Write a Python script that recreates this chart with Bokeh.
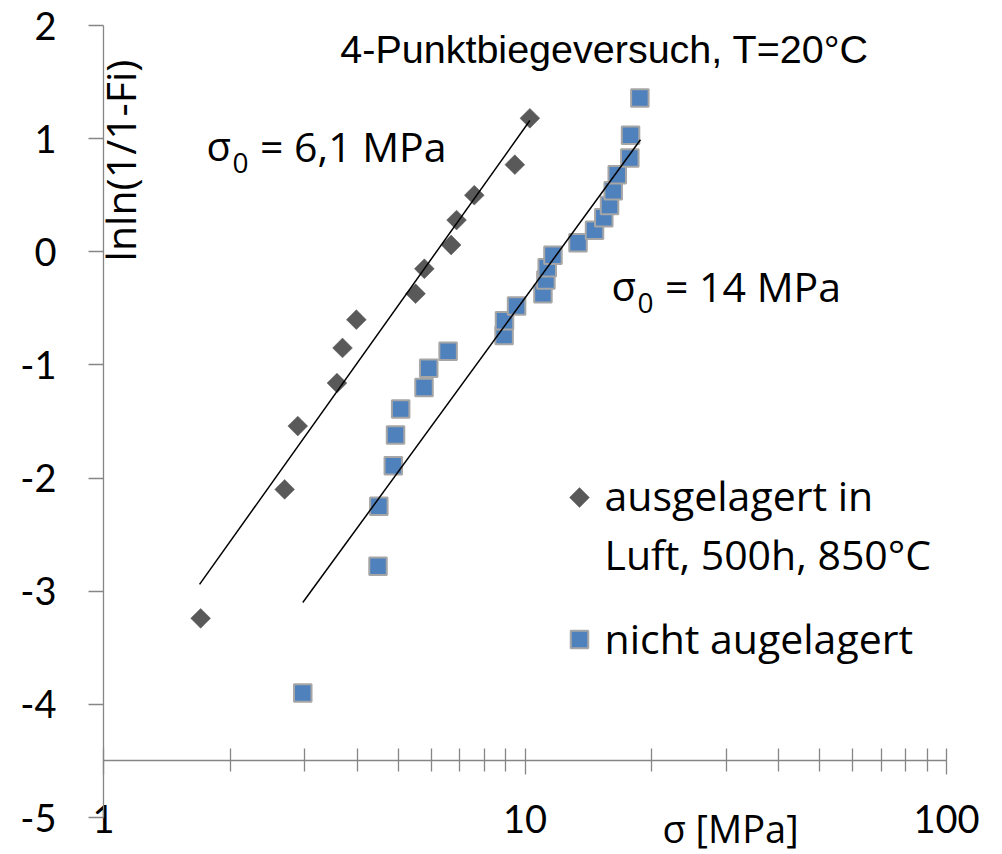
import numpy as np
from bokeh.plotting import figure
from bokeh.models import (LogAxis, LinearAxis, FixedTicker, Label, Range1d,
                          BasicTickFormatter, CustomJSTickFormatter)
from bokeh.embed import file_html
from bokeh.resources import INLINE

# ---------------- data ----------------
sigma_aged = [1.70, 2.69, 2.89, 3.58, 3.69, 3.98, 5.50, 5.77, 6.68, 6.88, 7.58, 9.46, 10.27]
lnln_aged = [-3.24, -2.10, -1.54, -1.16, -0.85, -0.60, -0.37, -0.15, 0.06, 0.28, 0.50, 0.77, 1.18]

sigma_new = [2.97, 4.48, 4.50, 4.87, 4.93, 5.07, 5.76, 5.91, 6.57, 8.92, 8.94, 9.55,
             11.03, 11.21, 11.29, 11.65, 13.36, 14.62, 15.38, 15.87, 16.19, 16.55,
             17.73, 17.80, 18.73]
lnln_new = [-3.90, -2.78, -2.25, -1.89, -1.62, -1.39, -1.20, -1.03, -0.88, -0.74, -0.61,
            -0.48, -0.37, -0.25, -0.14, -0.03, 0.08, 0.19, 0.30, 0.41, 0.54, 0.68,
            0.83, 1.03, 1.36]

fit_aged_x = [1.69, 10.27]
fit_aged_y = [-2.94, 1.16]
fit_new_x = [2.97, 18.79]
fit_new_y = [-3.10, 0.99]

x_major = [1, 10, 100]
x_minor = [2, 3, 4, 5, 6, 7, 8, 9, 20, 30, 40, 50, 60, 70, 80, 90]
y_ticks = [-5, -4, -3, -2, -1, 0, 1, 2]
x_bounds = (1, 100)
y_bounds = (-5, 2)
x_cross = -4.5          # the value axis crosses at lnln = -4.5

title_text = "4-Punktbiegeversuch, T=20°C"
y_title = "lnln(1/1-Fi)"
x_title = "σ [MPa]"
name_aged = ["ausgelagert in", "Luft, 500h, 850°C"]
name_new = "nicht augelagert"

# ---------------- layout (plot area of the original chart in px) ----------------
W, H = 1002, 854
L, R, T, B = 103, 946, 25, 817
def px_x(px):
    return 10 ** (2 * (px - L) / (R - L))
def px_y(py):
    return 2 - 7 * (py - T) / (B - T)

GRAY = "#868686"
DIAMOND = "#595959"
BLUE = "#4f81bd"
FONT = "Open Sans"
TICK_FONT = "Lato"
K_OPEN = 0.388      # (ascent - descent)/2 in em
K_LIB = 0.3465

# the frame covers the whole canvas; axes are drawn at fixed locations
p = figure(width=W, height=H, x_axis_type="log", x_axis_location=None,
           y_axis_location=None,
           x_range=Range1d(px_x(0), px_x(W)), y_range=Range1d(px_y(H), px_y(0)),
           output_backend="svg", toolbar_location=None,
           min_border_left=0, min_border_right=0, min_border_top=0, min_border_bottom=0)
p.outline_line_color = None
p.grid.visible = False
p.background_fill_color = "white"
p.border_fill_color = "white"

# y axis at x = 1
ya = LinearAxis(fixed_location=x_bounds[0], bounds=y_bounds,
                ticker=FixedTicker(ticks=y_ticks, minor_ticks=[]),
                formatter=CustomJSTickFormatter(code="return String(Math.round(tick))"),
                axis_line_color=GRAY, axis_line_width=1.3,
                major_tick_line_color=GRAY, major_tick_line_width=1.3,
                major_tick_out=15, major_tick_in=0, minor_tick_line_color=None,
                major_label_text_font=TICK_FONT, major_label_text_font_size="38px",
                major_label_text_color="black", major_label_standoff=32)
p.add_layout(ya, "left")

# x axis crossing at y = -4.5
xa = LogAxis(fixed_location=x_cross, bounds=x_bounds,
             ticker=FixedTicker(ticks=x_major, minor_ticks=x_minor),
             formatter=BasicTickFormatter(),
             axis_line_color=GRAY, axis_line_width=1.3,
             major_tick_line_color=GRAY, major_tick_line_width=1.3,
             minor_tick_line_color=GRAY, minor_tick_line_width=1.3,
             major_tick_out=14, major_tick_in=12,
             minor_tick_out=11, minor_tick_in=12,
             major_label_text_font=TICK_FONT, major_label_text_font_size="38px",
             major_label_text_color="black", major_label_standoff=30)
p.add_layout(xa, "below")

# x axis title (own axis, bounds chosen so the title sits right of centre)
xt = LogAxis(fixed_location=x_cross, bounds=(px_x(656), px_x(804)),
             ticker=FixedTicker(ticks=[], minor_ticks=[]),
             axis_line_color=None, major_tick_line_color=None,
             minor_tick_line_color=None, major_tick_out=0, major_tick_in=0,
             minor_tick_out=0, minor_tick_in=0,
             axis_label=x_title, axis_label_text_font=FONT,
             axis_label_text_font_size="38px", axis_label_text_font_style="normal",
             axis_label_text_color="black", axis_label_standoff=41)
p.add_layout(xt, "below")

# data
p.scatter(sigma_aged, lnln_aged, marker="square", angle=np.pi / 4, size=14,
          fill_color=DIAMOND, line_color=DIAMOND, line_width=0.5)
p.scatter(sigma_new, lnln_new, marker="square", size=17.5,
          fill_color=BLUE, line_color="#a6a6a6", line_width=2)
p.line(fit_aged_x, fit_aged_y, line_color="black", line_width=1.5)
p.line(fit_new_x, fit_new_y, line_color="black", line_width=1.5)

# legend keys (Excel-like legend inside the plot)
p.scatter([px_x(579)], [px_y(497)], marker="square", angle=np.pi / 4, size=14,
          fill_color=DIAMOND, line_color=DIAMOND, line_width=0.5)
p.scatter([px_x(579)], [px_y(639)], marker="square", size=17.5,
          fill_color=BLUE, line_color="#a6a6a6", line_width=2)

def lab(px, baseline_py, text, size=41, font=FONT, k=K_OPEN, align="left"):
    p.add_layout(Label(x=px_x(px), y=px_y(baseline_py - k * size), text=text,
                       text_font=font, text_font_size=f"{size}px", text_color="black",
                       text_align=align, text_baseline="middle"))

lab(604, 62, title_text, size=39.5, font="Liberation Sans", k=K_LIB, align="center")

p.add_layout(Label(x=px_x(119), y=px_y(160), text=y_title, text_font=FONT,
                   text_font_size="41px", text_color="black", text_align="center",
                   text_baseline="middle", angle=np.pi / 2))

lab(604, 510, name_aged[0])
lab(604, 569, name_aged[1])
lab(604, 653, name_new)

# sigma_0 annotations
lab(206, 161, "σ", size=40)
lab(232, 173, "0", size=28)
lab(259.5, 161, "= 6,1 MPa", size=41)
lab(611, 301, "σ", size=40)
lab(637, 313, "0", size=28)
lab(664.5, 301, "= 14 MPa", size=41)

open("out.html", "w").write(file_html(p, INLINE))
